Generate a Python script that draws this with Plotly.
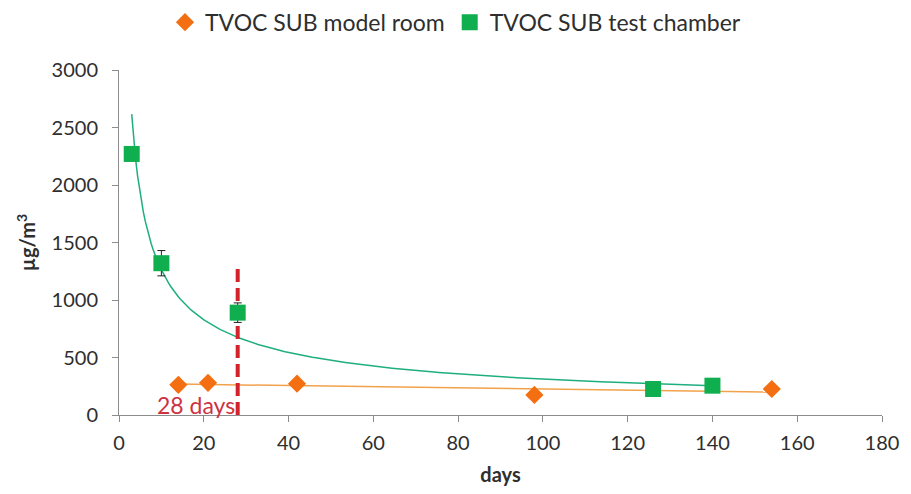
import numpy as np
import plotly.graph_objects as go

# Measured TVOC concentrations (µg/m³) over time (days)
room_days = [14, 21, 42, 98, 154]
room_tvoc = [262, 280, 272, 175, 226]
room_err = [15, 0, 0, 0, 0]

chamber_days = [3, 10, 28, 126, 140]
chamber_tvoc = [2270, 1320, 890, 226, 255]
chamber_err = [0, 110, 85, 0, 0]

x_ticks = [0, 20, 40, 60, 80, 100, 120, 140, 160, 180]
y_ticks = [0, 500, 1000, 1500, 2000, 2500, 3000]

marker_day = 28
marker_top = 1290

ORANGE = "#f36f12"
GREEN = "#0fae4f"
TREND_GREEN = "#1fae7e"
TREND_ORANGE = "#f2a24a"
RED = "#d3222a"
FONT = "Lato, Open Sans, sans-serif"
TEXT = "#2e2e2e"

# Linear trend for the model room
rx = np.array(room_days, float)
ry = np.array(room_tvoc, float)
k, c = np.polyfit(rx, ry, 1)
room_fit_x = np.linspace(rx.min(), rx.max(), 50)
room_fit_y = k * room_fit_x + c

# Power-law trend for the test chamber
cx = np.array(chamber_days, float)
cy = np.array(chamber_tvoc, float)
b, ln_a = np.polyfit(np.log(cx), np.log(cy), 1)
cham_fit_x = np.linspace(cx.min(), cx.max(), 300)
cham_fit_y = np.exp(ln_a) * cham_fit_x ** b

fig = go.Figure()

fig.add_trace(go.Scatter(
    x=room_fit_x, y=room_fit_y, mode="lines",
    line=dict(color=TREND_ORANGE, width=1.5),
    showlegend=False, hoverinfo="skip"))
fig.add_trace(go.Scatter(
    x=cham_fit_x, y=cham_fit_y, mode="lines",
    line=dict(color=TREND_GREEN, width=1.5),
    showlegend=False, hoverinfo="skip"))

fig.add_trace(go.Scatter(
    x=[marker_day, marker_day], y=[0, marker_top], mode="lines",
    line=dict(color=RED, width=4, dash="13px,6px"),
    showlegend=False, hoverinfo="skip"))

fig.add_trace(go.Scatter(
    x=room_days, y=room_tvoc, mode="markers",
    name="TVOC SUB model room",
    marker=dict(symbol="diamond", size=14, color=ORANGE),
    error_y=dict(type="data", array=room_err, visible=True,
                 color="#222222", thickness=1, width=4)))
fig.add_trace(go.Scatter(
    x=chamber_days, y=chamber_tvoc, mode="markers",
    name="TVOC SUB test chamber",
    marker=dict(symbol="square", size=16, color=GREEN),
    error_y=dict(type="data", array=chamber_err, visible=True,
                 color="#222222", thickness=1, width=4)))

fig.add_annotation(
    x=marker_day, y=0, xref="x", yref="y",
    text="28 days", showarrow=False,
    xanchor="right", yanchor="bottom", xshift=-1, yshift=-6,
    font=dict(family=FONT, size=23, color="#cc3341"))

fig.update_layout(
    width=911, height=494,
    margin=dict(l=119, r=24, t=70, b=79),
    paper_bgcolor="white", plot_bgcolor="white",
    font=dict(family=FONT, size=19, color=TEXT),
    legend=dict(orientation="h", xref="container", yref="container",
                x=0.5, xanchor="center", y=0.955, yanchor="middle",
                font=dict(family=FONT, size=23, color=TEXT),
                itemwidth=30, tracegroupgap=0),
    xaxis=dict(range=[0, 180], tickvals=x_ticks,
               showgrid=False, zeroline=False,
               showline=True, linecolor="#8c8c8c", linewidth=1,
               ticks="outside", ticklen=6, tickcolor="#8c8c8c",
               ticklabelstandoff=4,
               tickfont=dict(family=FONT, size=20, color=TEXT),
               title=dict(text="<b>days</b>", standoff=14,
                          font=dict(family=FONT, size=20, color=TEXT))),
    yaxis=dict(range=[0, 3000], tickvals=y_ticks,
               showgrid=False, zeroline=False,
               showline=True, linecolor="#8c8c8c", linewidth=1,
               ticks="outside", ticklen=6, tickcolor="#8c8c8c",
               ticklabelstandoff=10,
               tickfont=dict(family=FONT, size=20, color=TEXT),
               title=dict(text="<b>µg/m<sup>3</sup></b>", standoff=10,
                          font=dict(family=FONT, size=20, color=TEXT))),
)

fig.write_html("out.html")
